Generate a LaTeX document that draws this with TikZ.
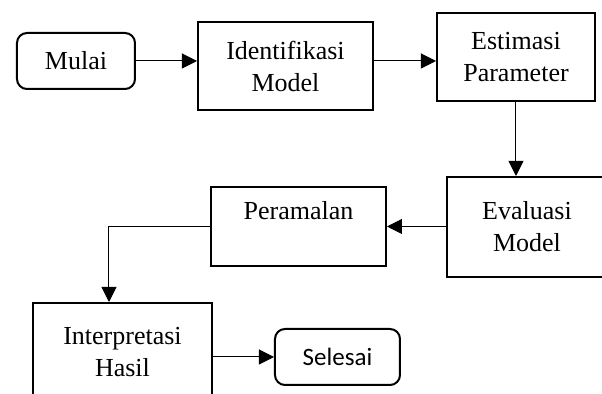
\documentclass[tikz,border=0pt]{standalone}
\usepackage{fontspec}
\setmainfont{Liberation Serif}
\newfontfamily\calibrifont{Carlito}
\usetikzlibrary{arrows.meta}

\begin{document}
\begin{tikzpicture}[x=0.5pt, y=-0.5pt,
	box/.style={draw, line width=1pt, align=center, inner sep=0pt},
	endbox/.style={box, rounded corners=5pt},
	flow/.style={line width=0.5pt, -{Triangle[length=7.5pt, width=7.5pt]}},
	font=\fontsize{13}{16}\selectfont]
	\useasboundingbox (0, 0) rectangle (602, 394);

	\node[endbox, minimum width=59pt, minimum height=28pt] (mulai) at (76, 61) {Mulai};
	\node[box, minimum width=87.5pt, minimum height=44pt] (ident) at (285.5, 66) {Identifikasi\\Model};
	\node[box, minimum width=79pt, minimum height=44pt] (estim) at (516, 57) {Estimasi\\Parameter};
	\node[box, minimum width=80pt, minimum height=50pt] (eval) at (527, 227) {Evaluasi\\Model};
	\node[box, minimum width=87.5pt, minimum height=39.5pt] (peram) at (298.5, 226.5) {Peramalan\\\mbox{}};
	\node[box, minimum width=89.5pt, minimum height=49pt] (interp) at (122.5, 352) {Interpretasi\\Hasil};
	\node[endbox, minimum width=62.5pt, minimum height=28pt, font=\calibrifont\fontsize{12.5}{15}\selectfont] (selesai) at (337.5, 357) {Selesai};

	\draw[flow] (mulai.east) -- (mulai.east -| ident.west);
	\draw[flow] (ident.east |- mulai.east) -- (estim.west |- mulai.east);
	\draw[flow] (estim.south) -- (estim.south |- eval.north);
	\draw[flow] (eval.west |- peram.east) -- (peram.east);
	\draw[flow] (peram.west) -| ([xshift=-6.75pt]interp.north);
	\draw[flow] (interp.east |- selesai.west) -- (selesai.west);

\end{tikzpicture}
\end{document}
